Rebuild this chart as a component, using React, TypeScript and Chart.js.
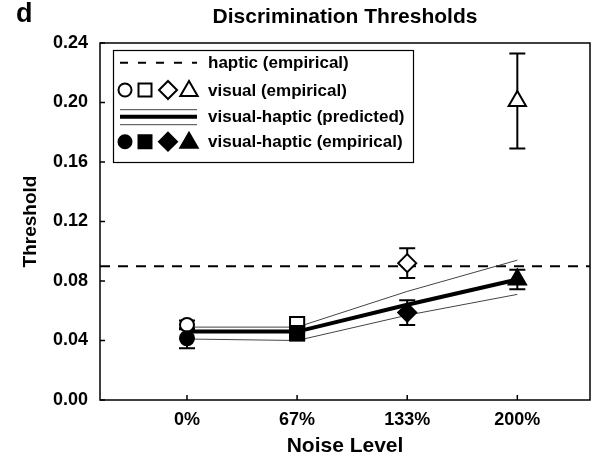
import React, { useEffect, useRef } from 'react';
import { Chart, registerables } from 'chart.js';

Chart.register(...registerables);

// ---------- data ----------
const CATEGORIES = ['0%', '67%', '133%', '200%'];
const X_POS = [0, 1, 2, 3];
const HAPTIC = 0.09;
const VISUAL = [0.0505, 0.051, 0.092, 0.201];
const VISUAL_ERR = [0.003, 0.003, 0.01, 0.032];
const VH = [0.0415, 0.045, 0.0588, 0.081];
const VH_ERR = [0.0067, 0.005, 0.0083, 0.0065];
const PRED = [0.046, 0.046, 0.064, 0.081];
const PRED_UPPER = [0.049, 0.049, 0.073, 0.094];
const PRED_LOWER = [0.041, 0.04, 0.057, 0.071];
const Y_TICKS = [0, 0.04, 0.08, 0.12, 0.16, 0.2, 0.24];
const X_MIN = -0.79;
const X_MAX = 3.66;
const LEGEND_LABELS = [
  'haptic (empirical)',
  'visual (empirical)',
  'visual-haptic (predicted)',
  'visual-haptic (empirical)',
];
const TITLE = 'Discrimination Thresholds';
const PANEL = 'd';
const X_TITLE = 'Noise Level';
const Y_TITLE = 'Threshold';

// ---------- styles ----------
const FONT = "'Liberation Sans', Arial, Helvetica, sans-serif";
const MARKERS = ['circle', 'rect', 'rectRot', 'triangle'];
const MARKER_R = [7, 10, 9, 10];

function drawMarker(ctx: CanvasRenderingContext2D, style: string, x: number, y: number, r: number, filled: boolean) {
  ctx.beginPath();
  if (style === 'circle') {
    ctx.arc(x, y, r, 0, Math.PI * 2);
  } else if (style === 'rect') {
    ctx.rect(x - r, y - r, 2 * r, 2 * r);
  } else if (style === 'rectRot') {
    ctx.moveTo(x, y - r);
    ctx.lineTo(x + r, y);
    ctx.lineTo(x, y + r);
    ctx.lineTo(x - r, y);
    ctx.closePath();
  } else {
    const h = r * 1.5;
    const w = r * 0.866;
    ctx.moveTo(x, y - h * 0.6);
    ctx.lineTo(x + w, y + h * 0.4);
    ctx.lineTo(x - w, y + h * 0.4);
    ctx.closePath();
  }
  ctx.fillStyle = filled ? '#000' : '#fff';
  ctx.fill();
  ctx.lineWidth = 2;
  ctx.strokeStyle = '#000';
  ctx.stroke();
}

const errorBars = {
  id: 'errorBars',
  beforeDatasetsDraw(chart: any) {
    const { ctx, scales } = chart;
    const x = scales.x;
    const y = scales.y;
    ctx.save();
    ctx.strokeStyle = '#000';
    ctx.lineWidth = 2;
    const draw = (vals: number[], errs: number[]) => {
      vals.forEach((v, i) => {
        const px = x.getPixelForValue(X_POS[i]);
        const top = y.getPixelForValue(v + errs[i]);
        const bot = y.getPixelForValue(v - errs[i]);
        ctx.beginPath();
        ctx.moveTo(px, top);
        ctx.lineTo(px, bot);
        ctx.moveTo(px - 8, top);
        ctx.lineTo(px + 8, top);
        ctx.moveTo(px - 8, bot);
        ctx.lineTo(px + 8, bot);
        ctx.stroke();
      });
    };
    draw(VISUAL, VISUAL_ERR);
    draw(VH, VH_ERR);
    ctx.restore();
  },
};

const decorations = {
  id: 'decorations',
  afterDraw(chart: any) {
    const { ctx, chartArea: a, scales } = chart;
    const x = scales.x;
    const y = scales.y;
    ctx.save();
    // frame
    ctx.strokeStyle = '#000';
    ctx.lineWidth = 1.5;
    ctx.strokeRect(a.left, a.top, a.right - a.left, a.bottom - a.top);
    // inward ticks
    ctx.lineWidth = 1.5;
    ctx.beginPath();
    Y_TICKS.forEach((t) => {
      const py = y.getPixelForValue(t);
      ctx.moveTo(a.left, py);
      ctx.lineTo(a.left + 5, py);
    });
    X_POS.forEach((t) => {
      const px = x.getPixelForValue(t);
      ctx.moveTo(px, a.bottom);
      ctx.lineTo(px, a.bottom - 5);
    });
    ctx.stroke();

    // title & panel letter
    ctx.fillStyle = '#000';
    ctx.textBaseline = 'middle';
    ctx.textAlign = 'center';
    ctx.font = `bold 21px ${FONT}`;
    ctx.fillText(TITLE, (a.left + a.right) / 2, 17);
    ctx.textAlign = 'left';
    ctx.font = `bold 27px ${FONT}`;
    ctx.fillText(PANEL, 16, 15);

    // legend
    const L = a.left + 13;
    const T = a.top + 7;
    const W = 300;
    const H = 112;
    ctx.fillStyle = '#fff';
    ctx.fillRect(L, T, W, H);
    ctx.lineWidth = 1.2;
    ctx.strokeStyle = '#000';
    ctx.strokeRect(L + 0.5, T + 0.5, W, H);
    const rows = [12.7, 40, 66.7, 91.7];
    // row 1: dashed
    ctx.lineWidth = 2;
    ctx.setLineDash([8, 10]);
    ctx.beginPath();
    ctx.moveTo(L + 7, T + rows[0]);
    ctx.lineTo(L + 84, T + rows[0]);
    ctx.stroke();
    ctx.setLineDash([]);
    // row 2 & 4 markers
    const mx = [12, 32, 55, 76];
    const mr = [6.5, 6.5, 9, 10];
    MARKERS.forEach((m, i) => {
      drawMarker(ctx, m, L + mx[i], T + rows[1], mr[i], false);
      drawMarker(ctx, m, L + mx[i], T + rows[3], mr[i], true);
    });
    // row 3 predicted
    ctx.strokeStyle = '#000';
    ctx.lineWidth = 4;
    ctx.beginPath();
    ctx.moveTo(L + 7, T + rows[2]);
    ctx.lineTo(L + 84, T + rows[2]);
    ctx.stroke();
    ctx.lineWidth = 1;
    ctx.strokeStyle = '#444';
    ctx.beginPath();
    ctx.moveTo(L + 7, T + rows[2] - 7);
    ctx.lineTo(L + 84, T + rows[2] - 7);
    ctx.moveTo(L + 7, T + rows[2] + 8);
    ctx.lineTo(L + 84, T + rows[2] + 8);
    ctx.stroke();
    // text
    ctx.fillStyle = '#000';
    ctx.font = `bold 17px ${FONT}`;
    ctx.textAlign = 'left';
    ctx.textBaseline = 'middle';
    LEGEND_LABELS.forEach((t, i) => ctx.fillText(t, L + 95, T + rows[i] + 1));
    ctx.restore();
  },
};

export default function App() {
  const ref = useRef<HTMLCanvasElement | null>(null);
  useEffect(() => {
    if (!ref.current) return;
    const pts = (vals: number[]) => vals.map((v, i) => ({ x: X_POS[i], y: v }));
    const chart = new Chart(ref.current, {
      type: 'scatter',
      data: {
        datasets: [
          {
            label: 'visual-haptic (empirical)',
            data: pts(VH),
            pointStyle: MARKERS as any,
            pointRadius: MARKER_R,
            backgroundColor: '#000',
            borderColor: '#000',
            borderWidth: 2,
            showLine: false,
          },
          {
            label: 'visual (empirical)',
            data: pts(VISUAL),
            pointStyle: MARKERS as any,
            pointRadius: MARKER_R,
            backgroundColor: '#fff',
            borderColor: '#000',
            borderWidth: 2,
            showLine: false,
          },
          {
            label: 'visual-haptic (predicted)',
            data: pts(PRED),
            showLine: true,
            borderColor: '#000',
            borderWidth: 4,
            pointRadius: 0,
          },
          {
            label: 'upper',
            data: pts(PRED_UPPER),
            showLine: true,
            borderColor: '#444',
            borderWidth: 1,
            pointRadius: 0,
          },
          {
            label: 'lower',
            data: pts(PRED_LOWER),
            showLine: true,
            borderColor: '#444',
            borderWidth: 1,
            pointRadius: 0,
          },
          {
            label: 'haptic (empirical)',
            data: [
              { x: X_MIN, y: HAPTIC },
              { x: X_MAX, y: HAPTIC },
            ],
            showLine: true,
            borderColor: '#000',
            borderWidth: 2,
            borderDash: [10, 8],
            pointRadius: 0,
          },
        ],
      },
      options: {
        animation: false,
        responsive: false,
        events: [],
        layout: { padding: { top: 43, right: 12, bottom: 0, left: 0 } },
        plugins: {
          legend: { display: false },
          tooltip: { enabled: false },
          title: { display: false },
        },
        scales: {
          x: {
            type: 'linear',
            min: X_MIN,
            max: X_MAX,
            afterBuildTicks: (s: any) => {
              s.ticks = X_POS.map((v) => ({ value: v }));
            },
            afterFit: (s: any) => {
              s.height = 59;
            },
            grid: { display: false, drawTicks: false },
            border: { display: false },
            ticks: {
              padding: 9,
              color: '#000',
              font: { family: FONT, size: 18, weight: 'bold' },
              callback: (v: any) => CATEGORIES[X_POS.indexOf(Number(v))] ?? '',
            },
            title: {
              display: true,
              text: X_TITLE,
              color: '#000',
              font: { family: FONT, size: 21, weight: 'bold' },
              padding: { top: 0, bottom: 0 },
            },
          },
          y: {
            min: 0,
            max: 0.24,
            afterBuildTicks: (s: any) => {
              s.ticks = Y_TICKS.map((v) => ({ value: v }));
            },
            afterFit: (s: any) => {
              s.width = 100;
            },
            grid: { display: false, drawTicks: false },
            border: { display: false },
            ticks: {
              padding: 12,
              color: '#000',
              font: { family: FONT, size: 18, weight: 'bold' },
              callback: (v: any) => Number(v).toFixed(2),
            },
            title: {
              display: true,
              text: Y_TITLE,
              color: '#000',
              font: { family: FONT, size: 19, weight: 'bold' },
              padding: { top: 19, bottom: 19 },
            },
          },
        },
      },
      plugins: [errorBars, decorations],
    } as any);
    return () => chart.destroy();
  }, []);
  return (
    <div style={{ position: 'fixed', left: 0, top: 0, width: 602, height: 459, background: '#fff' }}>
      <canvas ref={ref} width={602} height={459} />
    </div>
  );
}
